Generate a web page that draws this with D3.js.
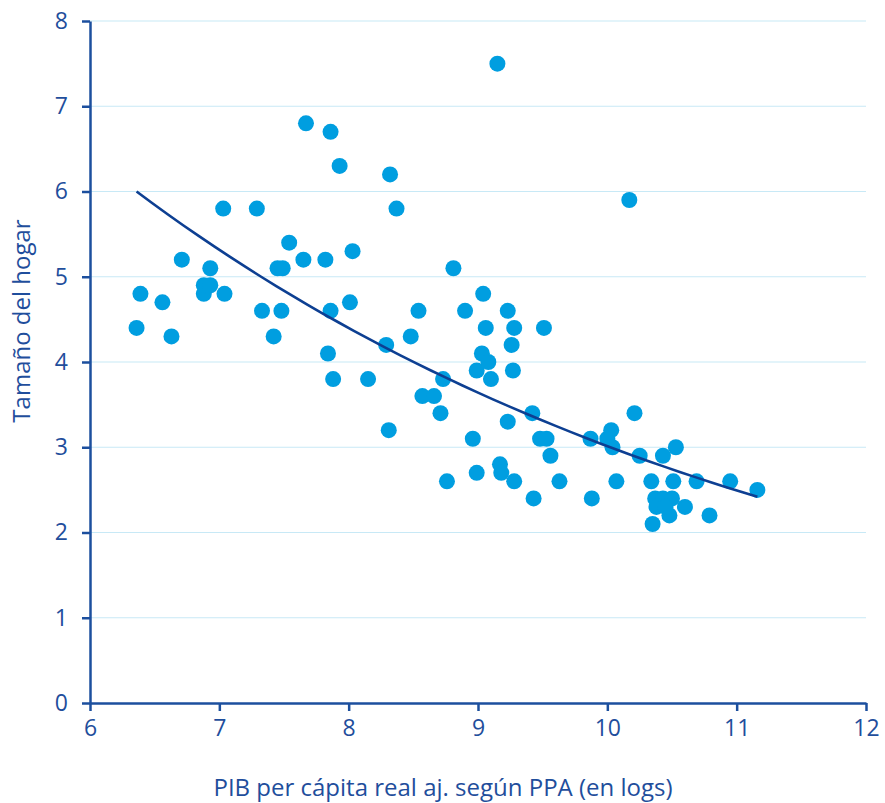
<!DOCTYPE html>
<html>
<head>
<meta charset="utf-8">
<script src="https://cdn.jsdelivr.net/npm/d3@7"></script>
<style>
  body { margin: 0; background: #fff; }
  text { font-family: "Open Sans", sans-serif; fill: #1f4e9c; }
</style>
</head>
<body>
<div id="chart"></div>
<script>
// values: log GDP per capita, household size
const gdp = [6.36, 6.39, 6.56, 6.63, 6.71, 6.88, 6.93, 6.88, 6.93, 7.04,
  7.03, 7.29, 7.33, 7.42, 7.48, 7.45, 7.49, 7.54, 7.67, 7.65,
  7.82, 7.86, 7.86, 7.84, 7.88, 7.93, 8.01, 8.03, 8.15, 8.29,
  8.31, 8.32, 8.37, 8.48, 8.54, 8.57, 8.66, 8.71, 8.73, 8.76,
  8.81, 8.90, 8.96, 8.99, 8.99, 9.03, 9.04, 9.06, 9.08, 9.10,
  9.15, 9.17, 9.18, 9.23, 9.23, 9.26, 9.27, 9.28, 9.28, 9.42,
  9.43, 9.48, 9.53, 9.51, 9.56, 9.63, 9.87, 9.88, 10.00, 10.03,
  10.04, 10.07, 10.17, 10.21, 10.25, 10.43, 10.53, 10.34, 10.51, 10.69,
  10.37, 10.43, 10.50, 10.60, 10.38, 10.48, 10.35, 10.79, 10.95, 11.16, 10.45]
const hhSize = [4.4, 4.8, 4.7, 4.3, 5.2, 4.8, 5.1, 4.9, 4.9, 4.8,
  5.8, 5.8, 4.6, 4.3, 4.6, 5.1, 5.1, 5.4, 6.8, 5.2,
  5.2, 6.7, 4.6, 4.1, 3.8, 6.3, 4.7, 5.3, 3.8, 4.2,
  3.2, 6.2, 5.8, 4.3, 4.6, 3.6, 3.6, 3.4, 3.8, 2.6,
  5.1, 4.6, 3.1, 2.7, 3.9, 4.1, 4.8, 4.4, 4.0, 3.8,
  7.5, 2.8, 2.7, 4.6, 3.3, 4.2, 3.9, 4.4, 2.6, 3.4,
  2.4, 3.1, 3.1, 4.4, 2.9, 2.6, 3.1, 2.4, 3.1, 3.2,
  3.0, 2.6, 5.9, 3.4, 2.9, 2.9, 3.0, 2.6, 2.6, 2.6,
  2.4, 2.4, 2.4, 2.3, 2.3, 2.2, 2.1, 2.2, 2.6, 2.5, 2.3]
const xTicks = [6, 7, 8, 9, 10, 11, 12]
const yTicks = [0, 1, 2, 3, 4, 5, 6, 7, 8]

const points = gdp.map((g, i) => ({ x: g, y: hhSize[i] }))

const width = 885, height = 803
const margin = { top: 21, right: 19, bottom: 100, left: 90 }

const svg = d3.select("#chart").append("svg")
  .attr("width", width)
  .attr("height", height)

const xScale = d3.scaleLinear().domain([6, 12]).range([margin.left, width - margin.right])
const yScale = d3.scaleLinear().domain([0, 8]).range([height - margin.bottom, margin.top])

// gridlines
svg.append("g")
  .selectAll("line")
  .data(yTicks.filter(d => d > 0))
  .join("line")
  .attr("x1", margin.left)
  .attr("x2", width - margin.right)
  .attr("y1", d => yScale(d))
  .attr("y2", d => yScale(d))
  .attr("stroke", "#c8e9f6")
  .attr("stroke-width", 1.2)

// exponential trend, fitted on ln(y) like a spreadsheet trendline
const mx = d3.mean(points, d => d.x)
const my = d3.mean(points, d => Math.log(d.y))
const b = d3.sum(points, d => (d.x - mx) * (Math.log(d.y) - my)) / d3.sum(points, d => (d.x - mx) ** 2)
const a = Math.exp(my - b * mx)
const [x0, x1] = d3.extent(points, d => d.x)
const trend = d3.range(0, 41).map(i => {
  const x = x0 + (x1 - x0) * i / 40
  return { x: x, y: a * Math.exp(b * x) }
})

// points
svg.append("g")
  .selectAll("circle")
  .data(points)
  .join("circle")
  .attr("cx", d => xScale(d.x))
  .attr("cy", d => yScale(d.y))
  .attr("r", 8)
  .attr("fill", "#009ee0")

svg.append("path")
  .datum(trend)
  .attr("fill", "none")
  .attr("stroke", "#0d3f92")
  .attr("stroke-width", 2.6)
  .attr("d", d3.line().x(d => xScale(d.x)).y(d => yScale(d.y)))

// axes
const xAxis = d3.axisBottom(xScale).tickValues(xTicks).tickFormat(d3.format("d"))
  .tickSize(8).tickSizeOuter(0).tickPadding(9)
const yAxis = d3.axisLeft(yScale).tickValues(yTicks).tickFormat(d3.format("d"))
  .tickSize(8).tickSizeOuter(0).tickPadding(14)

const gx = svg.append("g")
  .attr("transform", `translate(0,${height - margin.bottom})`)
  .call(xAxis)
const gy = svg.append("g")
  .attr("transform", `translate(${margin.left},0)`)
  .call(yAxis)

;[gx, gy].forEach(g => {
  g.select(".domain").attr("stroke", "#1c4f9e").attr("stroke-width", 2.5)
  g.selectAll(".tick line").attr("stroke", "#1c4f9e").attr("stroke-width", 2.5)
  g.selectAll(".tick text")
    .attr("font-size", 23)
    .attr("font-family", "Open Sans, sans-serif")
    .attr("fill", "#1f4e9c")
})

svg.append("text")
  .attr("x", 443)
  .attr("y", 796)
  .attr("text-anchor", "middle")
  .attr("font-size", 24)
  .text("PIB per cápita real aj. según PPA (en logs)")

svg.append("text")
  .attr("transform", "translate(30,321) rotate(-90)")
  .attr("text-anchor", "middle")
  .attr("font-size", 24)
  .text("Tamaño del hogar")
</script>
</body>
</html>
